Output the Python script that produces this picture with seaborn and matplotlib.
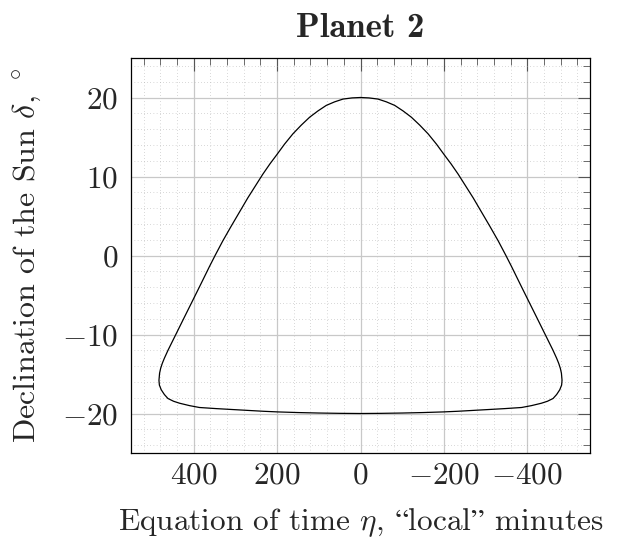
import numpy as np
import pandas as pd
import matplotlib
matplotlib.use('Agg')
import matplotlib.pyplot as plt
import seaborn as sns
from matplotlib.ticker import FixedLocator, MultipleLocator

# analemma
# left half: top -> left corner -> bottom middle
eta_left = [0, 20, 42, 62, 82, 102, 122, 142, 162, 182, 200, 217, 234, 252, 270,
            290, 310, 330, 348, 362, 382, 402, 422, 441, 461, 470, 475, 479,
            481.5, 483, 482, 477.5, 470, 461.5, 448, 433.5, 410, 386, 346, 306,
            266, 232, 198, 150, 100, 50, 0]
decl_left = [20, 19.95, 19.8, 19.45, 19.0, 18.3, 17.5, 16.5, 15.4, 14.1, 12.8,
             11.6, 10.3, 8.8, 7.3, 5.5, 3.7, 1.85, 0.05, -1.4, -3.55, -5.68, -7.8,
             -9.83, -11.96, -13.0, -13.65, -14.3, -14.9, -15.8, -16.4, -17.0,
             -17.6, -18.1, -18.45, -18.7, -19.0, -19.24, -19.38, -19.5, -19.62,
             -19.72, -19.8, -19.88, -19.94, -19.98, -20]
# right half: bottom middle -> right corner -> top
eta_right = [-50, -100, -150, -198, -232, -266, -306, -346, -386, -410, -433.5,
             -448, -461.5, -470, -477.5, -482, -483, -481.5, -479, -475, -470,
             -461, -441, -422, -402, -382, -362, -348, -330, -310, -290, -270,
             -252, -234, -217, -200, -182, -162, -142, -122, -102, -82, -62,
             -42, -20, 0]
decl_right = [-19.98, -19.94, -19.88, -19.8, -19.72, -19.62, -19.5, -19.38,
              -19.24, -19.0, -18.7, -18.45, -18.1, -17.6, -17.0, -16.4, -15.8,
              -14.9, -14.3, -13.65, -13.0, -11.96, -9.83, -7.8, -5.68, -3.55,
              -1.4, 0.05, 1.85, 3.7, 5.5, 7.3, 8.8, 10.3, 11.6, 12.8, 14.1, 15.4,
              16.5, 17.5, 18.3, 19.0, 19.45, 19.8, 19.95, 20]

x_major = [400, 200, 0, -200, -400]
y_major = [-20, -10, 0, 10, 20]

sns.set_theme(style='white')
plt.rcParams['font.family'] = ['cmr10', 'DejaVu Serif']
plt.rcParams['mathtext.fontset'] = 'cm'
plt.rcParams['axes.formatter.use_mathtext'] = True
plt.rcParams['axes.unicode_minus'] = True

df = pd.DataFrame({'eta': eta_left + eta_right, 'decl': decl_left + decl_right})

fig = plt.figure(figsize=(6.19, 5.43), dpi=100)
ax = fig.add_axes([131 / 619, 1 - 453 / 543, (590 - 131) / 619, (453 - 58) / 543])

sns.lineplot(data=df, x='eta', y='decl', sort=False, estimator=None,
             color='black', linewidth=0.9, ax=ax, zorder=3)

ax.set_xlim(550, -550)
ax.set_ylim(-25, 25)
ax.xaxis.set_major_locator(FixedLocator(x_major))
ax.yaxis.set_major_locator(FixedLocator(y_major))
ax.xaxis.set_minor_locator(MultipleLocator(40))
ax.yaxis.set_minor_locator(MultipleLocator(2))

ax.grid(True, which='major', color='#c8c8c8', linewidth=0.9, linestyle='-')
ax.grid(True, which='minor', color='#a8a8a8', linewidth=0.6, linestyle=(0, (0.6, 3.2)))
ax.set_axisbelow(True)

ax.tick_params(which='both', direction='in', top=True, right=True,
               labelsize=22.5, color='#555555')
ax.tick_params(which='major', length=9, width=0.8)
ax.tick_params(which='minor', length=5, width=0.6)
ax.tick_params(axis='x', which='major', pad=6)
ax.tick_params(axis='y', which='major', pad=9)
for s in ax.spines.values():
    s.set_color('black')
    s.set_linewidth(0.9)

# whole label goes through mathtext so the curly quotes get a fallback glyph
ax.set_xlabel('Equation of time $\\eta$, $\\mathrm{\u201c}$local$\\mathrm{\u201d}$ minutes',
              fontsize=22.5, labelpad=12)
ax.set_ylabel('Declination of the Sun $\\delta$, $^\\circ$', fontsize=23, labelpad=14)
ax.set_title('Planet 2', fontsize=25, fontfamily=['cmb10', 'DejaVu Serif'], pad=15)

fig.savefig('out.png', dpi=100)
